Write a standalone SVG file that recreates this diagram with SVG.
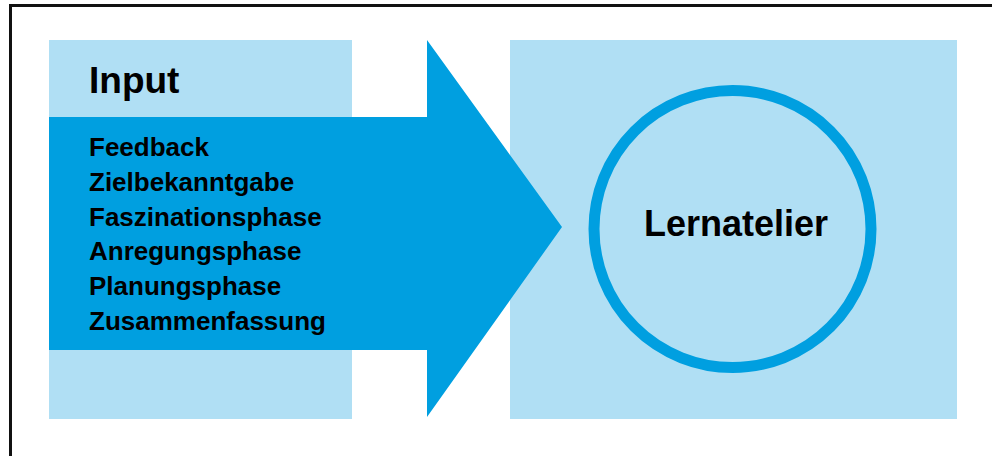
<svg xmlns="http://www.w3.org/2000/svg" width="992" height="456" viewBox="0 0 992 456">
  <style>
    .light { fill: #b0dff4; }
    .dark { fill: #009fe0; }
    .t { font-family: "Liberation Sans", Arial, sans-serif; font-weight: bold; fill: #000; }
    .title { font-size: 36px; }
    .item { font-size: 26px; }
  </style>
  <rect x="0" y="0" width="992" height="456" fill="#fff"/>
  <rect id="frame" x="10.5" y="5.5" width="1000" height="470" fill="none" stroke="#111" stroke-width="3"/>
  <g id="input">
    <rect class="light" x="49" y="40" width="303" height="379"/>
    <text class="t title" x="89" y="93" style="font-size:37px">Input</text>
  </g>
  <g id="lernatelier">
    <rect class="light" x="510" y="40" width="447" height="379"/>
    <circle cx="732.5" cy="229" r="138.5" fill="none" stroke="#009fe0" stroke-width="11"/>
    <text class="t title" x="736" y="236" text-anchor="middle">Lernatelier</text>
  </g>
  <g id="connectors">
    <g id="input-arrow">
      <polygon class="dark" points="49,117 427,117 427,40 562,227 427,417 427,350 49,350"/>
      <text class="t item" x="89" y="156">Feedback</text>
      <text class="t item" x="89" y="190.8">Zielbekanntgabe</text>
      <text class="t item" x="89" y="225.6">Faszinationsphase</text>
      <text class="t item" x="89" y="260.4">Anregungsphase</text>
      <text class="t item" x="89" y="295.2">Planungsphase</text>
      <text class="t item" x="89" y="330">Zusammenfassung</text>
    </g>
  </g>
</svg>
